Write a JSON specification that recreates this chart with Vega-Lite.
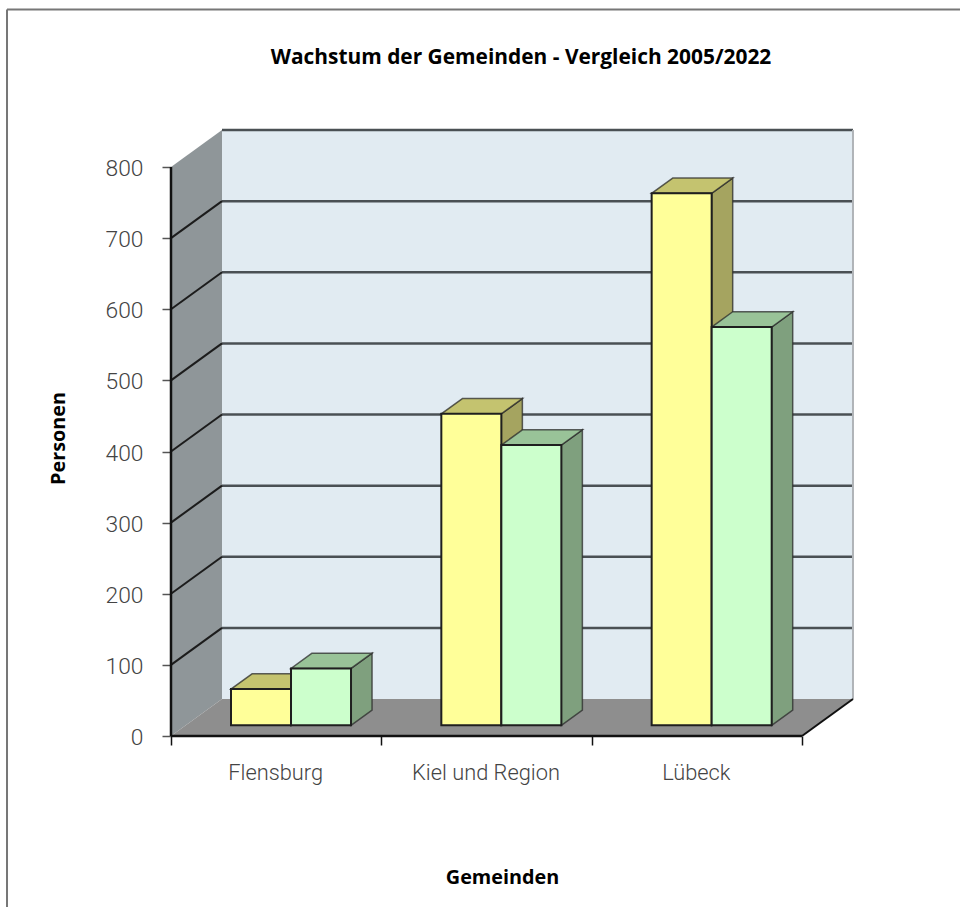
{
"$schema":"https://vega.github.io/schema/vega-lite/v6.json",
"width":960,"height":907,"autosize":"none","padding":0,"background":"white",
"config":{"view":{"stroke":null}},
"resolve":{"axis":{"x":"independent","y":"independent"}},
"title":{"text":"Wachstum der Gemeinden - Vergleich 2005/2022","font":"Open Sans","fontSize":20.9,"fontWeight":"bold","color":"#000","anchor":"middle","frame":"group","baseline":"alphabetic","offset":0,"dx":41,"dy":85},
"datasets":{
"eins":[{"k":1}],
"werte":[{"Wert":100},{"Wert":200},{"Wert":300},{"Wert":400},{"Wert":500},{"Wert":600},{"Wert":700},{"Wert":800}],
"tiefe":[{"t":0},{"t":1}],
"balken":[
{"Gemeinde":"Flensburg","Jahr":"2005","Personen":51},
{"Gemeinde":"Flensburg","Jahr":"2022","Personen":80},
{"Gemeinde":"Kiel und Region","Jahr":"2005","Personen":438},
{"Gemeinde":"Kiel und Region","Jahr":"2022","Personen":394},
{"Gemeinde":"Lübeck","Jahr":"2005","Personen":748},
{"Gemeinde":"Lübeck","Jahr":"2022","Personen":560}]},
"layer":[
{"data":{"name":"eins"},"transform":[{"calculate":"-0.7797","as":"a"},{"calculate":"1021.4","as":"b"},{"calculate":"-240.4","as":"c"}],"mark":{"type":"rule","color":"#777","strokeWidth":2},
 "encoding":{"x":{"field":"a","type":"quantitative","scale":{"domain":[-0.813,3.7513],"nice":false,"zero":false},
   "title":"Gemeinden",
   "axis":{"values":[0,0.5,1,1.5,2,2.5,3],"offset":-171,"domain":false,"grid":false,"tickColor":"#111","tickWidth":1.5,"tickSize":9,"tickOpacity":{"expr":"datum.value%1==0?1:0"},"labelExpr":"datum.value==0.5?'Flensburg':datum.value==1.5?'Kiel und Region':datum.value==2.5?'Lübeck':''","labelFont":"Roboto","labelFontWeight":300,"labelFontSize":21.8,"labelColor":"#444","labelPadding":17,"labelOverlap":false,"labelFlush":false,"labelOffset":-1,"titleFont":"Open Sans","titleFontSize":19.8,"titleFontWeight":"bold","titleColor":"#000","titleX":502,"titleY":147,"titleAlign":"center","titleBaseline":"alphabetic"}},
  "y":{"field":"b","type":"quantitative","scale":{"domain":[-240.4,1034.8],"nice":false,"zero":false},
   "title":"Personen",
   "axis":{"values":[0,100,200,300,400,500,600,700,800],"offset":-171,"domain":false,"grid":false,"tickColor":"#555","tickWidth":1.5,"tickSize":9,"labelFont":"Roboto","labelFontWeight":300,"labelFontSize":22.8,"labelColor":"#444","labelPadding":19,"labelOffset":1.5,"titleFont":"Open Sans","titleFontSize":19.8,"titleFontWeight":"bold","titleColor":"#000","titleX":-107,"titleY":438,"titleAlign":"center","titleBaseline":"alphabetic"}},
  "y2":{"field":"c"}}},
{"data":{"name":"eins"},"transform":[{"calculate":"-0.7797","as":"a"},{"calculate":"3.7513","as":"a2"},{"calculate":"1021.4","as":"b"}],"mark":{"type":"rule","color":"#777","strokeWidth":2},
 "encoding":{"x":{"field":"a","type":"quantitative","axis":null},"x2":{"field":"a2"},"y":{"field":"b","type":"quantitative","axis":null}}},
{"data":{"name":"tiefe"},"transform":[{"calculate":"datum.t*0.2425","as":"xw"},{"calculate":"datum.t*52","as":"lo"},{"calculate":"800+datum.t*52","as":"hi"}],
 "mark":{"type":"area","orient":"vertical","fill":"#8f9699"},
 "encoding":{"x":{"field":"xw","type":"quantitative","axis":null},"y":{"field":"lo","type":"quantitative","axis":null},"y2":{"field":"hi"}}},
{"data":{"name":"eins"},"transform":[{"calculate":"0.2425","as":"a"},{"calculate":"3.2425","as":"a2"},{"calculate":"52","as":"b"},{"calculate":"852","as":"b2"}],"mark":{"type":"rect","fill":"#e1ebf2"},
 "encoding":{"x":{"field":"a","type":"quantitative","axis":null},"x2":{"field":"a2"},"y":{"field":"b","type":"quantitative","axis":null},"y2":{"field":"b2"}}},
{"data":{"name":"tiefe"},"transform":[{"calculate":"datum.t*0.2425","as":"xa"},{"calculate":"3+datum.t*0.2425","as":"xb"},{"calculate":"datum.t*52","as":"yw"}],
 "mark":{"type":"area","orient":"horizontal","fill":"#8e8e8e"},
 "encoding":{"y":{"field":"yw","type":"quantitative","axis":null},"x":{"field":"xa","type":"quantitative","axis":null},"x2":{"field":"xb"}}},
{"data":{"name":"werte"},"transform":[{"calculate":"datum.Wert+52","as":"hinten"},{"calculate":"0.2425","as":"a"},{"calculate":"3.2425","as":"a2"}],
 "mark":{"type":"rule","color":"#4a5054","strokeWidth":2.5},
 "encoding":{"x":{"field":"a","type":"quantitative","axis":null},"x2":{"field":"a2"},"y":{"field":"hinten","type":"quantitative","axis":null}}},
{"data":{"name":"werte"},"transform":[{"filter":"datum.Wert<800"},{"calculate":"datum.Wert+52","as":"hinten"},{"calculate":"0","as":"a"},{"calculate":"0.2425","as":"a2"}],
 "mark":{"type":"rule","color":"#1c1c1c","strokeWidth":2},
 "encoding":{"x":{"field":"a","type":"quantitative","axis":null},"x2":{"field":"a2"},"y":{"field":"Wert","type":"quantitative","axis":null},"y2":{"field":"hinten"}}},
{"data":{"name":"eins"},"transform":[{"calculate":"3.2425","as":"a"},{"calculate":"0+52","as":"b"},{"calculate":"852","as":"b2"}],"mark":{"type":"rule","color":"#b0b4b8","strokeWidth":2},
 "encoding":{"x":{"field":"a","type":"quantitative","axis":null},"y":{"field":"b","type":"quantitative","axis":null},"y2":{"field":"b2"}}},
{"data":{"name":"eins"},"transform":[{"calculate":"0","as":"a"},{"calculate":"0","as":"b"},{"calculate":"800","as":"b2"}],"mark":{"type":"rule","color":"#111","strokeWidth":2.5},
 "encoding":{"x":{"field":"a","type":"quantitative","axis":null},"y":{"field":"b","type":"quantitative","axis":null},"y2":{"field":"b2"}}},
{"data":{"name":"eins"},"transform":[{"calculate":"0","as":"a"},{"calculate":"3","as":"a2"},{"calculate":"0","as":"b"}],"mark":{"type":"rule","color":"#111","strokeWidth":2.5},
 "encoding":{"x":{"field":"a","type":"quantitative","axis":null},"x2":{"field":"a2"},"y":{"field":"b","type":"quantitative","axis":null}}},
{"data":{"name":"eins"},"transform":[{"calculate":"3","as":"a"},{"calculate":"3.2425","as":"a2"},{"calculate":"0","as":"b"},{"calculate":"52","as":"b2"}],"mark":{"type":"rule","color":"#111","strokeWidth":2},
 "encoding":{"x":{"field":"a","type":"quantitative","axis":null},"x2":{"field":"a2"},"y":{"field":"b","type":"quantitative","axis":null},"y2":{"field":"b2"}}},
{"data":{"name":"balken"},
 "transform":[
  {"calculate":"indexof(['Flensburg','Kiel und Region','Lübeck'],datum.Gemeinde)+0.2853+(datum.Jahr=='2022'?0.2853:0)","as":"links"},
  {"calculate":"datum.links+0.2853","as":"rechts"},
  {"calculate":"15+datum.Personen","as":"oben"},{"calculate":"15","as":"basis"}],
 "layer":[
 {"transform":[{"calculate":"[0,1]","as":"t"},{"flatten":["t"]},{"calculate":"datum.rechts+datum.t*0.1","as":"xs"},{"calculate":"15+datum.t*21.5","as":"lo"},{"calculate":"datum.oben+datum.t*21.5","as":"hi"},{"calculate":"datum.Jahr+' Seite'","as":"Flaeche"}],
  "mark":{"type":"area","orient":"vertical","stroke":"#2b2b2b","strokeWidth":1.5,"strokeOpacity":0.75},
  "encoding":{"x":{"field":"xs","type":"quantitative","axis":null},"y":{"field":"lo","type":"quantitative","axis":null},"y2":{"field":"hi"},"detail":{"field":"Gemeinde","type":"nominal"},
   "fill":{"field":"Flaeche","type":"nominal","legend":null,"scale":{"domain":["2005 Seite","2022 Seite","2005 Deckel","2022 Deckel","2005 Front","2022 Front"],"range":["#a5a460","#7fa07e","#c4c36f","#99c398","#ffff99","#ccffcc"]}}}},
 {"transform":[{"calculate":"[0,1]","as":"t"},{"flatten":["t"]},{"calculate":"datum.links+datum.t*0.1","as":"xa"},{"calculate":"datum.rechts+datum.t*0.1","as":"xb"},{"calculate":"datum.oben+datum.t*21.5","as":"yw"},{"calculate":"datum.Jahr+' Deckel'","as":"Flaeche"}],
  "mark":{"type":"area","orient":"horizontal","stroke":"#2b2b2b","strokeWidth":1.5,"strokeOpacity":0.75},
  "encoding":{"y":{"field":"yw","type":"quantitative","axis":null},"x":{"field":"xa","type":"quantitative","axis":null},"x2":{"field":"xb"},"detail":{"field":"Gemeinde","type":"nominal"},
   "fill":{"field":"Flaeche","type":"nominal","legend":null}}},
 {"transform":[{"calculate":"datum.Jahr+' Front'","as":"Flaeche"}],
  "mark":{"type":"rect","stroke":"#1f1f1f","strokeWidth":2},
  "encoding":{"x":{"field":"links","type":"quantitative","axis":null},"x2":{"field":"rechts"},"y":{"field":"basis","type":"quantitative","axis":null},"y2":{"field":"oben"},
   "fill":{"field":"Flaeche","type":"nominal","legend":null}}}
 ]}
]}
